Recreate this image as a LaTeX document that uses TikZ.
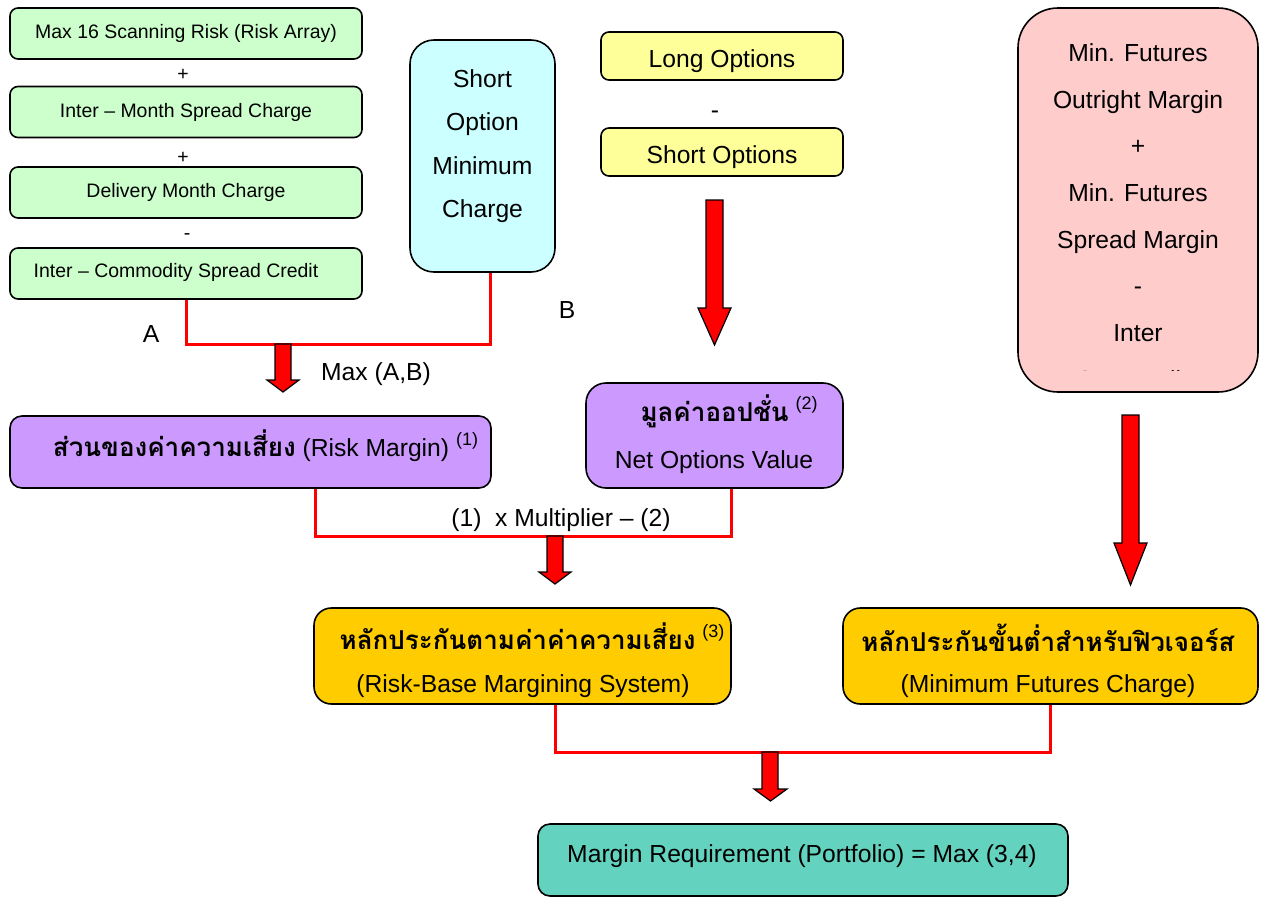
\documentclass[tikz,border=0pt]{standalone}
\usepackage{fontspec}
\setmainfont{Liberation Sans}
\newfontfamily\thaifont[Script=Thai]{Loma}
\usetikzlibrary{calc}

\definecolor{greenbox}{RGB}{204,255,204}
\definecolor{cyanbox}{RGB}{204,255,255}
\definecolor{yellowbox}{RGB}{255,255,153}
\definecolor{pinkbox}{RGB}{255,204,204}
\definecolor{purplebox}{RGB}{204,153,255}
\definecolor{orangebox}{RGB}{255,204,0}
\definecolor{tealbox}{RGB}{99,210,190}
\definecolor{riskred}{RGB}{255,0,0}

\tikzset{every picture/.style={line width=0.75pt}}
\tikzset{
  box/.style={draw, line width=1.2pt, inner sep=0pt},
  riskline/.style={draw=riskred, line width=2.25pt},
  blockarrow/.style={fill=riskred, draw=black, line width=0.9pt, line join=miter},
  smalltxt/.style={font=\fontsize{14.6}{17}\selectfont, inner sep=0pt},
  bigtxt/.style={font=\fontsize{18.5}{22}\selectfont, inner sep=0pt},
}
\newcommand{\supnum}[1]{\raisebox{8.5pt}{\fontsize{13.5}{15}\selectfont(#1)}}
\newcommand{\thaibold}[1]{{\thaifont\bfseries\fontsize{19.5}{22}\selectfont #1}}

\begin{document}
\begin{tikzpicture}[x=0.75pt,y=0.75pt,yscale=-1,xscale=1]
\useasboundingbox (0,0) rectangle (1271,897);

%Shape: Rounded Rect [id:scanning risk]
\node [box, fill=greenbox, rounded corners=6pt, minimum width=264pt, minimum height=38.25pt] (msr) at (186,33.5) {};
%Shape: Rounded Rect [id:inter month]
\node [box, fill=greenbox, rounded corners=6pt, minimum width=264pt, minimum height=38.25pt] (imsc) at (186,112) {};
%Shape: Rounded Rect [id:delivery month]
\node [box, fill=greenbox, rounded corners=6pt, minimum width=264pt, minimum height=38.25pt] (dmc) at (186,192.5) {};
%Shape: Rounded Rect [id:inter commodity]
\node [box, fill=greenbox, rounded corners=6pt, minimum width=264pt, minimum height=38.25pt] (icsc) at (186,273.5) {};
%Shape: Rounded Rect [id:short option min]
\node [box, fill=cyanbox, rounded corners=18pt, minimum width=108.75pt, minimum height=174pt] (somc) at (482.5,156) {};
%Shape: Rounded Rect [id:long options]
\node [box, fill=yellowbox, rounded corners=6pt, minimum width=181.5pt, minimum height=36pt] (lopt) at (722,56) {};
%Shape: Rounded Rect [id:short options]
\node [box, fill=yellowbox, rounded corners=6pt, minimum width=181.5pt, minimum height=36pt] (sopt) at (722,152) {};
%Shape: Rounded Rect [id:min futures]
\node [box, fill=pinkbox, rounded corners=30pt, minimum width=180pt, minimum height=288pt] (mfc) at (1138,200) {};
%Shape: Rounded Rect [id:risk margin]
\node [box, fill=purplebox, rounded corners=9pt, minimum width=360.75pt, minimum height=54pt] (rm) at (250.5,452) {};
%Shape: Rounded Rect [id:net options value]
\node [box, fill=purplebox, rounded corners=15pt, minimum width=192.75pt, minimum height=78.75pt] (nov) at (714.5,435.5) {};
%Shape: Rounded Rect [id:risk based]
\node [box, fill=orangebox, rounded corners=13pt, minimum width=312.75pt, minimum height=72pt] (rbms) at (522.5,656) {};
%Shape: Rounded Rect [id:min futures charge]
\node [box, fill=orangebox, rounded corners=13pt, minimum width=311.25pt, minimum height=72pt] (mfch) at (1050.5,656) {};
%Shape: Rounded Rect [id:margin requirement]
\node [box, fill=tealbox, rounded corners=9pt, minimum width=397.5pt, minimum height=54pt] (mreq) at (803,860) {};

%Straight Lines [id:max a b]
\draw [riskline] (icsc.south) -- ++(0,45) -| ($(somc.south)+(7.5,0)$) ;
%Straight Lines [id:multiplier]
\draw [riskline] ($(rm.south)+(64.5,0)$) -- ++(0,48) -| ($(nov.south)+(16.5,0)$) ;
%Straight Lines [id:max 3 4]
\draw [riskline] ($(rbms.south)+(32.5,0)$) -- ++(0,48) -| (mfch.south) ;

%Shape: Block Arrow [id:arrow max]
\draw [blockarrow] (275,344) -- (291,344) -- (291,380) -- (299,380) -- (283,392) -- (267,380) -- (275,380) -- cycle ;
%Shape: Block Arrow [id:arrow options]
\draw [blockarrow] (706,200) -- (723,200) -- (723,308) -- (731,308) -- (714.5,345) -- (698,308) -- (706,308) -- cycle ;
%Shape: Block Arrow [id:arrow multiplier]
\draw [blockarrow] (547,536) -- (563,536) -- (563,572) -- (571,572) -- (555,584) -- (539,572) -- (547,572) -- cycle ;
%Shape: Block Arrow [id:arrow futures]
\draw [blockarrow] (1122,415) -- (1139,415) -- (1139,543) -- (1147,543) -- (1130.5,585) -- (1114,543) -- (1122,543) -- cycle ;
%Shape: Block Arrow [id:arrow portfolio]
\draw [blockarrow] (762,752) -- (778,752) -- (778,789) -- (787,789) -- (770.5,801) -- (754,789) -- (762,789) -- cycle ;

% Text Node
\draw (186,33) node [smalltxt] (msrt) {Max 16 Scanning Risk (Risk Array)};
% Text Node
\draw (183,75) node [smalltxt] (plusa) {+};
% Text Node
\draw (186,112) node [smalltxt] (imsct) {Inter -- Month Spread Charge};
% Text Node
\draw (183,158) node [smalltxt] (plusb) {+};
% Text Node
\draw (186,192) node [smalltxt] (dmct) {Delivery Month Charge};
% Text Node
\draw (187,237) node [smalltxt] (minusa) {-};
% Text Node
\draw (176,272) node [smalltxt] (icsct) {Inter -- Commodity Spread Credit};
% Text Node
\draw (482.5,146) node [bigtxt, align=center, font=\fontsize{18.5}{32.5}\selectfont] (somct) {Short\\Option\\Minimum\\Charge};
% Text Node
\draw (722,61) node [bigtxt] (loptt) {Long Options};
% Text Node
\draw (715,115) node [bigtxt] (minusb) {-};
% Text Node
\draw (722,157) node [bigtxt] (soptt) {Short Options};
% Text Node
\begin{scope}
\clip (1018,8) rectangle (1258,370);
\draw (1138,218.5) node [bigtxt, align=center, font=\fontsize{18.5}{35}\selectfont] (mfct) {Min. Futures\\Outright Margin\\+\\Min. Futures\\Spread Margin\\-\\Inter\\Commodity};
\end{scope}
% Text Node
\draw (151,334) node [bigtxt] (lbla) {A};
% Text Node
\draw (567,310) node [bigtxt] (lblb) {B};
% Text Node
\draw (376,374) node [bigtxt] (maxab) {Max (A,B)};
% Text Node
\draw (265.5,446) node [bigtxt] (rmt) {\thaibold{ส่วนของค่าความเสี่ยง} (Risk Margin) \supnum{1}};
% Text Node
\draw (729,411) node [bigtxt] (novth) {\thaibold{มูลค่าออปชั่น} \supnum{2}};
% Text Node
\draw (714,462) node [bigtxt] (novt) {Net Options Value};
% Text Node
\draw (532,636) node [bigtxt] (rbmsth) {\thaibold{หลักประกันตามค่าค่าความเสี่ยง} \supnum{3}};
% Text Node
\draw (523,686) node [bigtxt] (rbmst) {(Risk-Base Margining System)};
% Text Node
\draw (1048,638) node [bigtxt] (mfchth) {\thaibold{หลักประกันขั้นต่ำสำหรับฟิวเจอร์ส}};
% Text Node
\draw (1048,686) node [bigtxt] (mfcht) {(Minimum Futures Charge)};
% Text Node
\draw (561,520) node [bigtxt] (mult) {(1)\ \ x Multiplier -- (2)};
% Text Node
\draw (802,856) node [bigtxt] (mreqt) {Margin Requirement (Portfolio) = Max (3,4)};

\end{tikzpicture}
\end{document}
